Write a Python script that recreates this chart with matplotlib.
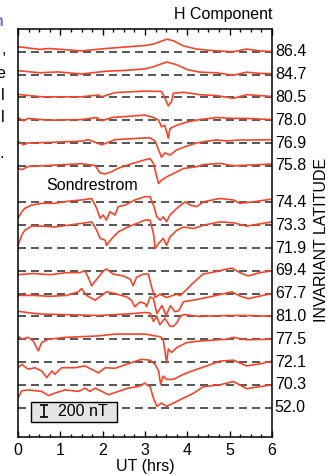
import matplotlib
matplotlib.use("Agg")
import matplotlib.pyplot as plt
from matplotlib.patches import Rectangle
from matplotlib.ticker import MultipleLocator

plt.rcParams['font.family'] = ['Liberation Sans', 'DejaVu Sans']

# ---------------- data ----------------
latitudes = ["86.4", "84.7", "80.5", "78.0", "76.9", "75.8",
             "74.4", "73.3", "71.9",
             "69.4", "67.7", "81.0", "77.5", "72.1", "70.3", "52.0"]

# H-component deviations (nT) from baseline
t_864 = [0, 0.52, 0.72, 1.5, 2.0, 2.53, 3.0, 3.2, 3.52, 3.67, 3.9, 4.22, 4.6, 5.08, 5.4, 5.72, 6]
h_864 = [85, 40, 55, 15, 50, 80, 105, 130, 210, 185, 100, 45, 20, 0, 45, 15, 5]

t_847 = [0, 0.52, 0.95, 1.5, 2.06, 2.53, 3.0, 3.2, 3.51, 3.75, 3.99, 4.3, 4.69, 5.09, 5.4, 5.72, 6]
h_847 = [65, 30, 45, 10, 55, 70, 95, 130, 210, 165, 85, 40, 30, -10, 40, 20, 15]

t_805 = [0, 0.56, 1.5, 1.9, 1.98, 2.29, 3.0, 3.28, 3.39, 3.47, 3.55, 3.63, 3.67, 3.91, 4.3, 4.69, 5.09, 5.4, 5.72, 6]
h_805 = [50, 10, 10, 40, 10, 80, 105, 100, 100, -10, -140, -65, 70, 85, 45, 30, -15, 45, 30, 15]

t_780 = [0, 0.13, 0.24, 0.72, 1.5, 1.86, 1.98, 2.22, 3.0, 3.2, 3.32, 3.39, 3.47, 3.51, 3.55, 3.59, 3.75, 3.99, 4.3, 4.69, 5.09, 5.4, 6]
h_780 = [45, -10, 30, 0, 10, 45, -10, 45, 85, 45, 0, -110, -85, -195, -300, -140, -85, -30, 10, 45, 30, 30, 10]

t_769 = [0, 0.13, 0.24, 0.72, 1.5, 1.66, 1.98, 2.29, 3.0, 3.12, 3.24, 3.32, 3.39, 3.47, 3.59, 3.75, 3.99, 4.22, 4.46, 4.69, 4.93, 5.24, 5.64, 6]
h_769 = [30, -30, 0, 10, 30, 55, -30, 55, 85, 85, 30, -110, -235, -165, -200, -115, -50, 0, 30, 50, 35, 50, 50, 55]

t_758 = [0, 0.09, 0.24, 0.72, 1.5, 1.82, 1.94, 2.06, 2.22, 2.37, 2.69, 3.0, 3.12, 3.2, 3.28, 3.32, 3.39, 3.51, 3.67, 3.91, 4.22, 4.38, 4.77, 5.09, 5.4, 6]
h_758 = [-40, -65, -10, 5, 35, 5, -120, -135, -95, -40, 35, 100, 120, 40, -185, -295, -240, -185, -130, -45, -15, 20, 40, 0, 10, 30]

t_744 = [0, 0.09, 0.16, 0.32, 0.56, 0.87, 1.19, 1.5, 1.74, 1.86, 1.94, 2.01, 2.09, 2.17, 2.29, 2.37, 2.53, 2.76, 3.0, 3.12, 3.2, 3.28, 3.36, 3.43, 3.51, 3.59, 3.75, 3.95, 4.07, 4.22, 4.38, 4.77, 5.09, 5.24, 5.56, 6]
h_744 = [-265, -155, -100, -45, -15, -15, 20, 40, 65, -100, -265, -210, -295, -155, -210, -70, -45, 40, 95, 95, -45, -240, -295, -240, -320, -210, -100, 10, -45, -70, 10, 65, 40, -15, 10, 55]

t_733 = [0, 0.09, 0.16, 0.32, 0.56, 0.87, 1.5, 1.74, 1.86, 1.94, 2.06, 2.09, 2.22, 2.37, 2.6, 3.0, 3.12, 3.2, 3.24, 3.32, 3.43, 3.51, 3.59, 3.75, 3.91, 4.15, 4.38, 4.77, 5.09, 5.4, 6]
h_733 = [-335, -165, -85, -15, -15, -30, 30, 55, -85, -220, -250, -335, -220, -110, -30, 85, 85, -140, -390, -305, -220, -335, -195, -85, -30, -55, 0, 55, 40, -15, 55]

t_694 = [0, 0.36, 0.76, 1.15, 1.46, 1.58, 1.66, 1.74, 1.86, 2.02, 2.09, 2.25, 2.49, 2.65, 2.72, 2.8, 2.96, 3.08, 3.16, 3.24, 3.35, 3.51, 3.75, 3.83, 4.0, 4.14, 4.37, 4.7, 4.93, 5.05, 5.24, 5.44, 5.72, 6]
h_694 = [-65, -45, -65, -30, -30, 0, -110, -250, -140, 0, 30, -55, -85, -140, -250, -110, -55, -55, -280, -445, -390, -445, -390, -415, -300, -200, -55, -10, 30, 45, -30, -85, -30, 0]

t_677 = [0, 0.36, 0.76, 1.15, 1.43, 1.5, 1.62, 1.82, 1.98, 2.09, 2.29, 2.57, 2.68, 2.76, 2.88, 3.0, 3.04, 3.12, 3.2, 3.28, 3.4, 3.5, 3.6, 3.7, 3.8, 3.91, 4.14, 4.53, 4.93, 5.05, 5.24, 5.44, 5.72, 6]
h_677 = [-30, -30, -45, -30, 30, 85, -30, -110, -30, 30, 0, -55, -110, -220, -140, -165, -220, -55, -85, -335, -200, -365, -200, -300, -285, -135, -110, -55, 10, 30, -40, -85, -40, 0]

t_810 = [0, 0.32, 0.56, 1.11, 1.9, 2.68, 3.0, 3.12, 3.2, 3.28, 3.35, 3.47, 3.59, 3.67, 3.75, 3.83, 3.91, 4.3, 4.93, 5.4, 6]
h_810 = [85, 55, 40, 30, 15, 45, 65, 55, -85, 0, -140, -30, -165, -165, -110, 0, 30, 0, 15, 15, 0]

t_775 = [0, 0.09, 0.24, 0.36, 0.44, 0.48, 0.56, 0.72, 1.11, 1.9, 2.29, 3.0, 3.36, 3.43, 3.47, 3.51, 3.55, 3.63, 3.75, 3.99, 4.3, 4.93, 5.09, 5.4, 6]
h_775 = [55, 0, 30, -30, -140, -195, -55, 0, 30, 55, 85, 85, 40, 0, -195, -390, -165, -220, -140, -55, -30, 0, 30, -10, 0]

t_721 = [0, 0.09, 0.24, 0.4, 0.56, 0.68, 0.8, 0.87, 1.03, 1.35, 1.58, 1.82, 1.9, 2.06, 2.29, 2.68, 2.92, 3.12, 3.24, 3.32, 3.37, 3.43, 3.51, 3.67, 3.91, 4.15, 4.46, 4.77, 5.09, 5.4, 5.72, 6]
h_721 = [-95, -40, -120, -95, -150, -260, -150, -205, -95, -95, -65, -150, -180, -95, -105, -10, 45, 30, -40, -150, -370, -235, -290, -290, -205, -140, -65, 15, 30, -65, -30, 15]

t_703 = [0, 0.09, 0.24, 0.56, 0.72, 0.87, 1.11, 1.43, 1.58, 1.7, 1.82, 1.98, 2.14, 2.37, 2.6, 2.84, 3.0, 3.04, 3.12, 3.2, 3.28, 3.39, 3.51, 3.67, 3.91, 4.15, 4.38, 4.77, 5.09, 5.4, 5.72, 6]
h_703 = [-220, -100, -85, -110, -180, -140, -85, -110, -55, -110, -55, -110, -165, -110, -55, -30, 30, 0, -30, -220, -360, -305, -360, -305, -220, -140, -30, 0, 55, -65, -30, 0]

traces = {
    "86.4": (t_864, h_864), "84.7": (t_847, h_847), "80.5": (t_805, h_805),
    "78.0": (t_780, h_780), "76.9": (t_769, h_769), "75.8": (t_758, h_758),
    "74.4": (t_744, h_744), "73.3": (t_733, h_733),
    "69.4": (t_694, h_694), "67.7": (t_677, h_677), "81.0": (t_810, h_810),
    "77.5": (t_775, h_775), "72.1": (t_721, h_721), "70.3": (t_703, h_703),
}

x_ticks = [0, 1, 2, 3, 4, 5, 6]
scale_nT = 200

# ---------------- layout ----------------
W, H = 336, 476
fig = plt.figure(figsize=(W / 100, H / 100), dpi=100)
ax = fig.add_axes([18 / W, 1 - 437 / H, 254 / W, 408 / H])

SPACING = 380      # nT between baselines
GAP = 230          # extra gap before the Sondrestrom group
RED = '#f4452a'

for i, lat in enumerate(latitudes):
    base = -(SPACING * (i + 1) + (GAP if i >= 6 else 0))
    ax.axhline(base, color='#3a3a3a', lw=1.2, ls=(0, (4.8, 3)), zorder=1)
    ax.text(1.011, base, lat, transform=ax.get_yaxis_transform(),
            ha='left', va='center', fontsize=11.5, clip_on=False)
    if lat in traces:
        t, h = traces[lat]
        ax.plot(t, [base + v for v in h], color=RED, lw=1.2, zorder=2)

ax.set_xlim(0, 6)
ax.set_ylim(-6800, 0)
ax.set_xticks(x_ticks)
ax.xaxis.set_minor_locator(MultipleLocator(0.25))
ax.set_yticks([])
ax.tick_params(axis='x', which='major', direction='in', length=4.5, width=1,
               top=True, labelsize=11.5, pad=4)
ax.tick_params(axis='x', which='minor', direction='in', length=2.5, width=1, top=True)
for s in ax.spines.values():
    s.set_linewidth(1.1)
ax.set_xlabel('UT (hrs)', fontsize=11.5, labelpad=1)

# titles / labels
fig.text(272 / W, 1 - 15 / H, 'H Component', ha='right', va='center', fontsize=11.5)
fig.text(322 / W, 1 - 240 / H, 'INVARIANT LATITUDE', rotation=90,
         ha='center', va='center', fontsize=11.5)
ax.text(28 / 254, 1 - (186 - 29) / 408, 'Sondrestrom', transform=ax.transAxes,
        ha='left', va='center', fontsize=11.5)

# scale box
ax.add_patch(Rectangle(((31 - 18) / 254, (437 - 422) / 408), 86 / 254, 20 / 408,
                       transform=ax.transAxes, facecolor='#e4e4e4',
                       edgecolor='black', lw=1.0, zorder=3))
bar_x = 0.61
bar_y = -6367
ax.errorbar([bar_x], [bar_y], yerr=[scale_nT / 2], color='black', lw=1.2,
            capsize=3.2, capthick=1.2, zorder=4)
ax.text(0.94, bar_y, f'{scale_nT} nT', ha='left', va='center', fontsize=11.5, zorder=4)

# fragments of neighbouring text at the left edge (clipped)
frags = [('n', 4, 21, '#7b7bc0'), (',', 6, 49, 'black'), ('e', 5, 73, 'black'),
         ('l', 4, 95, 'black'), ('l', 4, 118, 'black'), ('.', 4, 153, 'black')]
for s, xr, yc, c in frags:
    fig.text(xr / W, 1 - yc / H, s, ha='right', va='center', fontsize=11.5,
             color=c, fontweight='bold' if c != 'black' else 'normal')

fig.savefig('out.png', dpi=100)
